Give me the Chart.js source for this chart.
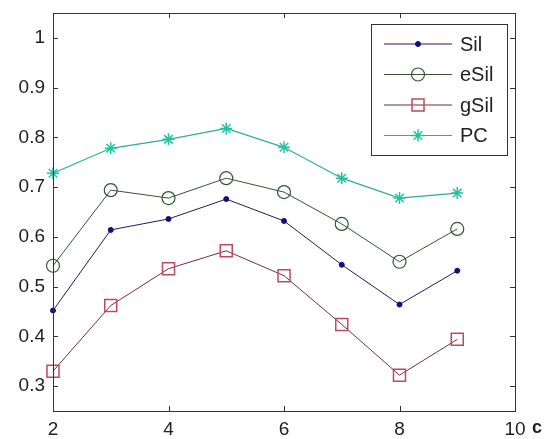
<!DOCTYPE html>
<html>
<head>
  <meta charset="UTF-8">
  <title>Sil / eSil / gSil / PC</title>
  <script src="https://cdn.jsdelivr.net/npm/chart.js"></script>
  <style>
    body { margin: 0; background: #fff; }
    #wrap { width: 551px; height: 439px; }
  </style>
</head>
<body>
  <div id="wrap"><canvas id="chart"></canvas></div>

  <script>
    const cValues = [2, 3, 4, 5, 6, 7, 8, 9];
    const silValues  = [0.452, 0.614, 0.636, 0.676, 0.632, 0.544, 0.464, 0.532];
    const esilValues = [0.542, 0.694, 0.678, 0.718, 0.690, 0.626, 0.550, 0.616];
    const gsilValues = [0.330, 0.462, 0.536, 0.572, 0.522, 0.424, 0.322, 0.394];
    const pcValues   = [0.728, 0.778, 0.796, 0.818, 0.780, 0.718, 0.678, 0.688];
    const xTicks = [2, 4, 6, 8, 10];
    const yTicks = [0.3, 0.4, 0.5, 0.6, 0.7, 0.8, 0.9, 1];

    const pts = vals => vals.map((v, i) => ({ x: cValues[i], y: v }));
    const font = '"Liberation Sans", Arial, sans-serif';

    // box around the axes with inward ticks, matlab style
    const boxPlugin = {
      id: 'box',
      afterDraw(chart) {
        const { ctx, chartArea: a, scales } = chart;
        ctx.save();
        ctx.strokeStyle = '#333';
        ctx.lineWidth = 1;
        ctx.strokeRect(a.left + 0.5, a.top + 0.5, a.right - a.left, a.bottom - a.top);
        ctx.beginPath();
        xTicks.forEach(t => {
          const x = Math.round(scales.x.getPixelForValue(t)) + 0.5;
          ctx.moveTo(x, a.bottom); ctx.lineTo(x, a.bottom - 5);
          ctx.moveTo(x, a.top); ctx.lineTo(x, a.top + 5);
        });
        yTicks.forEach(t => {
          const y = Math.round(scales.y.getPixelForValue(t)) + 0.5;
          ctx.moveTo(a.left, y); ctx.lineTo(a.left + 5, y);
          ctx.moveTo(a.right, y); ctx.lineTo(a.right - 5, y);
        });
        ctx.stroke();

        // axis label "c" next to the last tick
        ctx.fillStyle = '#222';
        ctx.font = 'bold 18px ' + font;
        ctx.textAlign = 'left';
        ctx.textBaseline = 'middle';
        ctx.fillText('c', a.right + 17, a.bottom + 17);

        // legend inside the plot
        const bx = a.right - 144, by = a.top + 11, bw = 136, bh = 131;
        ctx.fillStyle = '#fff';
        ctx.fillRect(bx, by, bw, bh);
        ctx.strokeStyle = '#333';
        ctx.strokeRect(bx + 0.5, by + 0.5, bw, bh);
        ctx.font = '20px ' + font;
        chart.data.datasets.forEach((ds, i) => {
          const y = by + 20 + i * 30.5;
          ctx.strokeStyle = ds.borderColor;
          ctx.lineWidth = 1;
          ctx.beginPath();
          ctx.moveTo(bx + 13, y); ctx.lineTo(bx + 81, y);
          ctx.stroke();
          ctx.strokeStyle = ds.pointBorderColor;
          ctx.fillStyle = ds.pointBackgroundColor;
          ctx.lineWidth = ds.pointBorderWidth;
          Chart.helpers.drawPoint(ctx, {
            pointStyle: ds.pointStyle, radius: ds.pointRadius,
            borderWidth: ds.pointBorderWidth, rotation: 0
          }, bx + 47, y);
          ctx.fillStyle = '#222';
          ctx.fillText(ds.label, bx + 89, y + 1);
        });
        ctx.restore();
      }
    };

    new Chart(document.getElementById('chart'), {
      type: 'line',
      data: {
        datasets: [
          {
            label: 'Sil', data: pts(silValues), clip: false,
            borderColor: '#1c1c66', borderWidth: 1,
            pointStyle: 'circle', pointRadius: 2.5, pointBorderWidth: 1,
            pointBorderColor: '#10107a', pointBackgroundColor: '#10107a'
          },
          {
            label: 'eSil', data: pts(esilValues), clip: false,
            borderColor: '#3a4f3a', borderWidth: 1,
            pointStyle: 'circle', pointRadius: 6.5, pointBorderWidth: 1.2,
            pointBorderColor: '#2d5a2d', pointBackgroundColor: 'rgba(255,255,255,0)'
          },
          {
            label: 'gSil', data: pts(gsilValues), clip: false,
            borderColor: '#6e3040', borderWidth: 1,
            pointStyle: 'rect', pointRadius: 8.5, pointBorderWidth: 1.5,
            pointBorderColor: '#c04a5c', pointBackgroundColor: 'rgba(255,255,255,0)'
          },
          {
            label: 'PC', data: pts(pcValues), clip: false,
            borderColor: '#2fae96', borderWidth: 1.2,
            pointStyle: 'star', pointRadius: 6, pointBorderWidth: 1.5,
            pointBorderColor: '#22c4a0', pointBackgroundColor: '#22c4a0'
          }
        ]
      },
      options: {
        responsive: true,
        maintainAspectRatio: false,
        animation: false,
        layout: { padding: { top: 13, right: 36, left: 0, bottom: 0 } },
        plugins: { legend: { display: false }, tooltip: { enabled: false } },
        scales: {
          x: {
            type: 'linear', min: 2, max: 10,
            grid: { display: false, drawTicks: false },
            border: { display: false },
            afterFit: s => { s.height = 28; s.paddingLeft = 0; s.paddingRight = 0; },
            afterBuildTicks: s => { s.ticks = xTicks.map(v => ({ value: v })); },
            ticks: { color: '#222', padding: 7, font: { family: font, size: 19 } }
          },
          y: {
            min: 0.25, max: 1.05,
            grid: { display: false, drawTicks: false },
            border: { display: false },
            afterFit: s => { s.width = 53; s.paddingTop = 0; s.paddingBottom = 0; },
            afterBuildTicks: s => { s.ticks = yTicks.map(v => ({ value: v })); },
            ticks: {
              color: '#222', padding: 8, font: { family: font, size: 19 },
              callback: v => String(Number(v.toFixed(2)))
            }
          }
        }
      },
      plugins: [boxPlugin]
    });
  </script>
</body>
</html>
